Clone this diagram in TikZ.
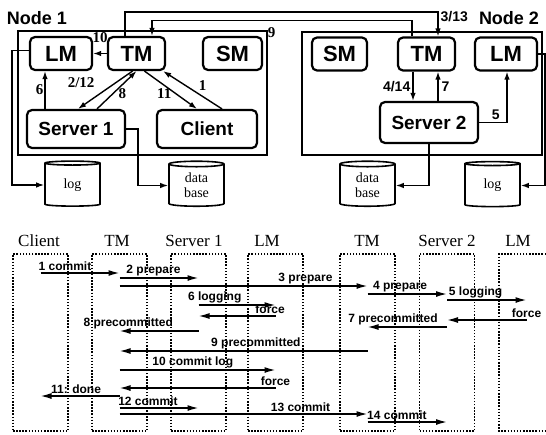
\documentclass[tikz,border=0pt]{standalone}
\usepackage{fontspec}
\setmainfont{Liberation Serif}
\setsansfont{Liberation Sans}
\usetikzlibrary{arrows.meta,shapes.geometric}

\begin{document}
\begin{tikzpicture}[x=1pt, y=-1pt,
    frame/.style={draw, line width=2.2pt, inner sep=0pt},
    unit/.style={draw, line width=2.2pt, rounded corners=5pt, inner sep=0pt,
      minimum height=33pt, font=\sffamily\bfseries\fontsize{22}{22}\selectfont},
    proc/.style={unit, minimum height=38pt, font=\sffamily\bfseries\fontsize{19}{19}\selectfont},
    store/.style={draw, line width=1.6pt, cylinder, shape border rotate=90, aspect=0.22,
      minimum width=55pt, minimum height=45pt, inner sep=0pt, align=center,
      font=\fontsize{14}{15}\selectfont},
    flow/.style={line width=1.4pt, -{Latex[length=8pt,width=5.5pt]}},
    num/.style={font=\bfseries\fontsize{15}{15}\selectfont, inner sep=1pt},
    snum/.style={font=\sffamily\bfseries\fontsize{14}{14}\selectfont, inner sep=1pt},
    title/.style={font=\sffamily\bfseries\fontsize{18}{18}\selectfont},
    life/.style={draw, line width=1.5pt, dash pattern=on 1.5pt off 1.6pt},
    head/.style={font=\fontsize{17}{17}\selectfont},
    msg/.style={line width=1.4pt, -{Latex[length=11pt,width=6pt]}},
    lbl/.style={font=\sffamily\bfseries\fontsize{12}{12}\selectfont, above, inner sep=1.5pt}
  ]
  \useasboundingbox (0,0) rectangle (546,434);

  % node 1
  \node[frame, minimum width=249pt, minimum height=124pt] (node1) at (142.5,93) {};
  \node[title] (node1t) at (37,18) {Node 1};
  \node[unit, minimum width=62pt] (lm1) at (61,53.5) {LM};
  \node[unit, minimum width=57pt] (tm1) at (136.5,53.5) {TM};
  \node[unit, minimum width=59pt] (sm1) at (232.5,53.5) {SM};
  \node[proc, minimum width=98pt] (srv1) at (76,129) {Server 1};
  \node[proc, minimum width=100pt] (client) at (207,129) {Client};
  \node[store] (log1) at (72.5,185) {log};
  \node[store] (db1) at (196.5,185.5) {data\\base};

  % node 2
  \node[frame, minimum width=240pt, minimum height=123pt] (node2) at (422,93.5) {};
  \node[title] (node2t) at (509,18) {Node 2};
  \node[unit, minimum width=55pt] (sm2) at (339.5,54) {SM};
  \node[unit, minimum width=57pt] (tm2) at (426.5,54) {TM};
  \node[unit, minimum width=62pt] (lm2) at (506,54) {LM};
  \node[proc, minimum width=98pt, minimum height=41pt] (srv2) at (429,122.5) {Server 2};
  \node[store] (db2) at (367.5,185.5) {data\\base};
  \node[store] (log2) at (492.5,185.5) {log};

  % traffic inside node 1
  \draw[flow] (tm1.west) -- (lm1.east) node[num, midway, above=9pt] {10};
  \draw[flow] ([xshift=-31pt]srv1.north) -- ([xshift=-16pt]lm1.south) node[num, midway, left] {6};
  \draw[flow] ([xshift=-4pt]tm1.south) -- ([xshift=2pt]srv1.north) node[num, pos=.3, left=20pt] {2/12};
  \draw[flow] ([xshift=21pt]srv1.north) -- (tm1.south) node[num, pos=.4, right=4pt] {8};
  \draw[flow] ([xshift=8pt]tm1.south) -- ([xshift=-10pt]client.north) node[num, pos=.6, left=3pt] {11};
  \draw[flow] ([xshift=15pt]client.north) -- ([xshift=-3pt]tm1.south east) node[num, pos=.625, right=12pt] {1};

  % between the nodes
  \coordinate (t1a) at ([xshift=-11.5pt]tm1.north);
  \coordinate (t1b) at ([xshift=15.5pt]tm1.north);
  \coordinate (t2a) at ([xshift=-14.5pt]tm2.north);
  \coordinate (t2b) at ([xshift=11.5pt]tm2.north);
  \draw[flow] (t1a) -- ++(0,-24) -| (t2b) node[snum, pos=.6, right=1pt] {3/13};
  \draw[flow] (t2a) -- ++(0,-16) -| (t1b) node[num, pos=.27, below=5pt] {9};

  % traffic inside node 2
  \draw[flow] ([xshift=-13.5pt]tm2.south) -- ([xshift=-16pt]srv2.north) node[snum, midway, left=1pt] {4/14};
  \draw[flow] ([xshift=9pt]srv2.north) -- ([xshift=11.5pt]tm2.south) node[snum, midway, right=2pt] {7};
  \draw[flow] (srv2.east) -| ([xshift=1pt]lm2.south) node[snum, pos=.3, above=1pt] {5};

  % to the disks
  \draw[flow] ([yshift=3pt]lm1.west) -- ++(-17,0) |- (log1.west);
  \draw[flow] (srv1.east) -- ++(12,0) |- (db1.west);
  \draw[flow] (srv2.south) |- (db2.east);
  \draw[flow] (lm2.east) -- ++(7,0) |- (log2.east);

  % lifelines
  \foreach \nm/\x in {cl/40.5, tma/119.5, sva/198.5, lma/275.5, tmb/367.5, svb/447}
    \node[life, minimum width=55pt, minimum height=177pt] (\nm) at (\x,342.5) {};
  \coordinate (lmb) at (526.5,342.5);
  \draw[life] (546,254) -| (499,431) -- (546,431);

  \node[head] (hcl) at (39,241) {Client};
  \node[head] (htma) at (117,241) {TM};
  \node[head] (hsva) at (194,241) {Server 1};
  \node[head] (hlma) at (267,241) {LM};
  \node[head] (htmb) at (367,241) {TM};
  \node[head] (hsvb) at (447,241) {Server 2};
  \node[head] (hlmb) at (518,241) {LM};

  % messages
  \draw[msg] (cl |- 0,273) -- (tma |- 0,273) node[lbl, pos=.31] {1 commit};
  \draw[msg] (tma |- 0,278) -- (sva |- 0,278) node[lbl, pos=.43] {2 prepare};
  \draw[msg] (tma |- 0,286) -- (tmb |- 0,286) node[lbl, pos=.75] {3 prepare};
  \draw[msg] (tmb |- 0,294) -- (svb |- 0,294) node[lbl, pos=.41] {4 prepare};
  \draw[msg] (svb |- 0,300) -- (lmb |- 0,300) node[lbl, pos=.36] {5 logging};
  \draw[msg] (sva |- 0,305) -- (lma |- 0,305) node[lbl, pos=.21] {6 logging};
  \draw[msg] (lma |- 0,316) -- (sva |- 0,316) node[lbl, pos=.07] {force};
  \draw[msg] (lmb |- 0,320) -- (svb |- 0,320) node[lbl, pos=0] {force};
  \draw[msg] (svb |- 0,327) -- (tmb |- 0,327) node[lbl, pos=.68] {7 precommitted};
  \draw[msg] (sva |- 0,331) -- (tma |- 0,331) node[lbl, pos=.89] {8 precommitted};
  \draw[msg] (tmb |- 0,351) -- (tma |- 0,351) node[lbl, pos=.45] {9 precommitted};
  \draw[msg] (tma |- 0,370) -- (lma |- 0,370) node[lbl, pos=.47] {10 commit log};
  \draw[msg] (lma |- 0,388) -- (tma |- 0,388) node[lbl, pos=0] {force};
  \draw[msg] (tma |- 0,396) -- (cl |- 0,396) node[lbl, pos=.55] {11: done};
  \draw[msg] (tma |- 0,408) -- (sva |- 0,408) node[lbl, pos=.36] {12 commit};
  \draw[msg] (tma |- 0,414) -- (tmb |- 0,414) node[lbl, pos=.73] {13 commit};
  \draw[msg] (tmb |- 0,422) -- (svb |- 0,422) node[lbl, pos=.37] {14 commit};

\end{tikzpicture}
\end{document}
